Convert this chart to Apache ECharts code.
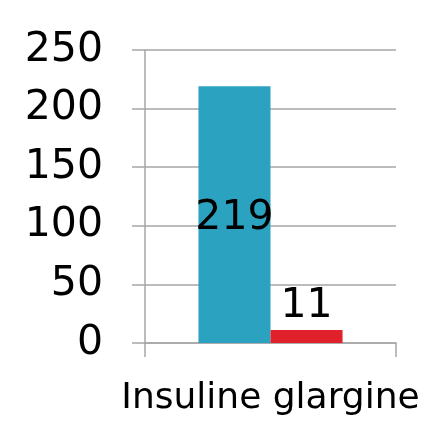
<!DOCTYPE html>
<html>
<head>
<meta charset="utf-8">
<script src="https://cdn.jsdelivr.net/npm/echarts@6/dist/echarts.min.js"></script>
<style>
  html, body { margin: 0; padding: 0; background: #ffffff; }
  #chart { width: 424px; height: 425px; }
</style>
</head>
<body>
<div id="chart"></div>
<script>
// Categories and series values
const categories = ['Insuline glargine'];
const seriesA = [219];
const seriesB = [11];
const yTicks = { min: 0, max: 250, interval: 50 };

const FONT = '"DejaVu Sans", sans-serif';
const GRID_COLOR = '#a6a6a6';

const chart = echarts.init(document.getElementById('chart'));
chart.setOption({
  animation: false,
  grid: { left: 145, right: 28, top: 50, bottom: 82, containLabel: false },
  xAxis: {
    type: 'category',
    data: categories,
    axisLine: { show: true, lineStyle: { color: GRID_COLOR, width: 1.5 } },
    axisTick: { show: true, length: 14, alignWithLabel: false, lineStyle: { color: GRID_COLOR, width: 1.5 } },
    axisLabel: { color: '#000', fontFamily: FONT, fontSize: 36, margin: 38 }
  },
  yAxis: {
    type: 'value',
    min: yTicks.min,
    max: yTicks.max,
    interval: yTicks.interval,
    axisLine: { show: true, lineStyle: { color: GRID_COLOR, width: 1.5 } },
    axisTick: { show: true, length: 13, lineStyle: { color: GRID_COLOR, width: 1.5 } },
    splitLine: { show: true, lineStyle: { color: GRID_COLOR, width: 1.5 } },
    axisLabel: { color: '#000', fontFamily: FONT, fontSize: 41, margin: 42, verticalAlign: 'middle', padding: [4, 0, 0, 0] }
  },
  series: [
    {
      type: 'bar',
      data: seriesA,
      barGap: '0%',
      barCategoryGap: '42.6%',
      itemStyle: { color: '#2ca2c1' },
      label: { show: true, position: 'inside', offset: [0, 4], color: '#000', fontFamily: FONT, fontSize: 41 }
    },
    {
      type: 'bar',
      data: seriesB,
      itemStyle: { color: '#e0212b' },
      label: { show: true, position: 'top', distance: 3, color: '#000', fontFamily: FONT, fontSize: 41 }
    }
  ]
});
</script>
</body>
</html>
